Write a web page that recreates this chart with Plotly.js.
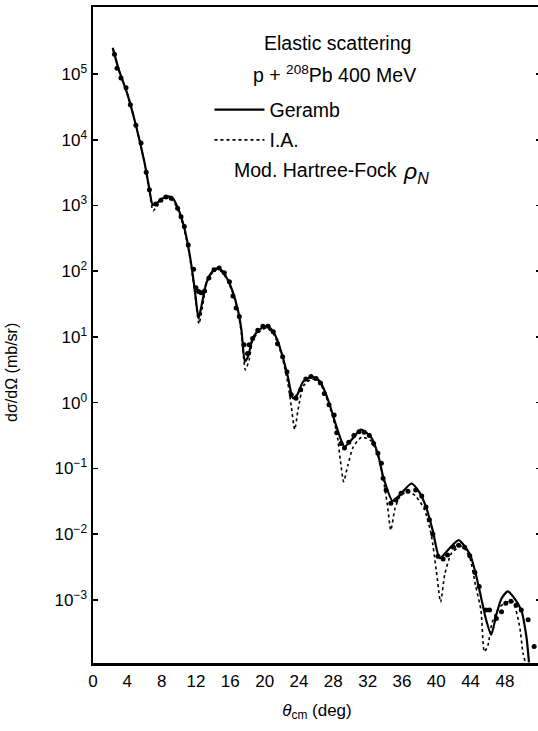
<!DOCTYPE html>
<html>
<head>
<meta charset="utf-8">
<script src="https://cdn.plot.ly/plotly-3.0.1.min.js"></script>
<style>
html,body{margin:0;padding:0;background:#fff;overflow:hidden;}
#chart{width:545px;height:731px;}
</style>
</head>
<body>
<div id="chart"></div>
<script>
// Scattering angle (deg) and cross sections (mb/sr)
const gerambAngle = [2.3, 3.0, 4.0, 5.0, 6.0, 6.5, 6.96, 7.4, 8.0, 8.7, 9.3, 9.9, 10.6, 11.2, 11.8, 12.1, 12.3, 12.6, 13.2, 13.8, 14.5, 15.1, 15.7, 16.3, 16.9, 17.3, 17.7, 18.1, 18.6, 19.3, 20.2, 20.9, 21.5, 22.1, 22.7, 23.3, 23.8, 24.5, 25.5, 26.4, 27.0, 27.7, 28.4, 29.3, 30.2, 31.2, 32.4, 33.2, 33.8, 34.9, 35.8, 37.1, 38.0, 38.8, 39.6, 40.4, 41.5, 42.6, 43.9, 44.5, 45.2, 45.8, 46.4, 47.0, 47.6, 48.3, 49.0, 49.9, 50.5, 50.8];
const gerambXS = [2.5e5, 1.17e5, 5.0e4, 1.66e4, 4.5e3, 2.0e3, 1.02e3, 1.07e3, 1.26e3, 1.38e3, 1.29e3, 912, 479, 200, 60, 28, 19, 28, 66, 95, 112, 100, 74, 48, 25, 12.6, 4.2, 5.2, 9.5, 12.6, 14.8, 12.6, 8.9, 5.0, 2.5, 1.17, 1.32, 2.1, 2.5, 2.14, 1.51, 0.83, 0.42, 0.214, 0.28, 0.39, 0.30, 0.166, 0.076, 0.032, 0.040, 0.059, 0.044, 0.026, 0.0112, 0.0043, 0.006, 0.0081, 0.005, 0.0028, 0.00112, 0.0005, 0.000295, 0.0006, 0.00105, 0.00135, 0.0011, 0.0007, 0.000275, 0.000112];

const iaAngle = [2.3, 3.0, 4.0, 5.0, 6.0, 6.5, 7.0, 7.4, 8.0, 8.7, 9.3, 9.9, 10.6, 11.2, 11.8, 12.1, 12.35, 12.7, 13.2, 13.8, 14.5, 15.1, 15.7, 16.3, 16.9, 17.3, 17.75, 18.2, 18.6, 19.3, 20.2, 20.9, 21.5, 22.1, 22.7, 23.1, 23.5, 23.9, 24.5, 25.5, 26.4, 27.0, 27.7, 28.4, 28.8, 29.2, 29.7, 30.3, 31.3, 32.4, 33.2, 33.8, 34.3, 34.7, 35.2, 35.8, 36.7, 37.6, 38.6, 39.4, 40.0, 40.5, 41.0, 41.8, 43.0, 43.9, 44.6, 45.2, 45.6, 46.0, 46.5, 47.3, 48.1, 48.9, 49.7, 50.1, 50.4];
const iaXS = [2.5e5, 1.17e5, 5.0e4, 1.66e4, 4.5e3, 1.9e3, 830, 955, 1.2e3, 1.32e3, 1.2e3, 850, 447, 191, 55, 25, 15.8, 26, 63, 91, 107, 95, 71, 46, 24, 11.2, 3.16, 4.5, 8.9, 11.7, 13.8, 11.7, 8.3, 4.6, 2.0, 0.89, 0.39, 0.79, 1.78, 2.3, 2.0, 1.41, 0.76, 0.355, 0.141, 0.063, 0.112, 0.209, 0.30, 0.263, 0.158, 0.071, 0.028, 0.0115, 0.025, 0.038, 0.045, 0.038, 0.024, 0.010, 0.0028, 0.00093, 0.0025, 0.0052, 0.0066, 0.0044, 0.0016, 0.0007, 0.000162, 0.0002, 0.00045, 0.00076, 0.00091, 0.00095, 0.0004, 0.000155, 0.00011];

const dataAngle = [2.5, 2.8, 3.26, 3.85, 4.35, 5.0, 5.6, 6.2, 6.57, 7.3, 7.9, 8.5, 9.1, 9.86, 10.26, 10.64, 11.1, 11.73, 12.0, 12.3, 12.6, 13.0, 13.5, 14.1, 14.7, 15.3, 15.9, 16.3, 16.67, 17.05, 17.6, 18.0, 18.2, 18.6, 19.2, 19.8, 20.4, 21.0, 21.5, 22.1, 22.6, 23.1, 23.65, 24.2, 24.8, 25.4, 26.0, 26.5, 26.95, 27.5, 28.1, 28.4, 28.9, 29.3, 29.8, 30.4, 31.0, 31.6, 32.2, 32.7, 33.2, 33.6, 33.8, 34.15, 34.7, 35.3, 35.9, 36.7, 37.6, 38.3, 38.8, 39.2, 39.6, 40.2, 40.8, 41.3, 42.0, 42.6, 43.3, 43.9, 44.5, 45.0, 45.8, 46.2, 47.0, 47.6, 48.1, 48.7, 49.3, 49.9, 50.7, 51.4];
const dataXS = [2.0e5, 1.23e5, 8.7e4, 6.2e4, 3.4e4, 1.66e4, 8.9e3, 3.2e3, 1.74e3, 1.05e3, 1.2e3, 1.35e3, 1.29e3, 912, 676, 479, 251, 107, 56, 49, 47, 50, 79, 105, 112, 95, 69, 42, 27.5, 20.4, 7.6, 5.6, 7.6, 9.5, 12.6, 14.5, 14.5, 12.0, 7.9, 5.0, 2.95, 1.32, 1.17, 1.58, 2.29, 2.5, 2.34, 2.0, 1.38, 0.93, 0.65, 0.35, 0.24, 0.204, 0.25, 0.316, 0.363, 0.355, 0.316, 0.24, 0.17, 0.12, 0.071, 0.047, 0.0295, 0.033, 0.042, 0.045, 0.047, 0.038, 0.026, 0.0166, 0.010, 0.0046, 0.0042, 0.0048, 0.0063, 0.0068, 0.0063, 0.0047, 0.0026, 0.0016, 0.0007, 0.0007, 0.00052, 0.00066, 0.00089, 0.00095, 0.00083, 0.0007, 0.0005, 0.000195];

const xTicks = [0, 4, 8, 12, 16, 20, 24, 28, 32, 36, 40, 44, 48];
const yTicks = [1e-3, 1e-2, 1e-1, 1e0, 1e1, 1e2, 1e3, 1e4, 1e5];
const yTickExp = ['−3', '−2', '−1', '0', '1', '2', '3', '4', '5'];

const FONT = "'Liberation Sans', Arial, Helvetica, sans-serif";

const traces = [
  {
    x: gerambAngle, y: gerambXS, type: 'scatter', mode: 'lines', name: 'Geramb',
    line: {color: '#000', width: 2.2, shape: 'spline', smoothing: 0.6},
    legend: 'legend'
  },
  {
    x: iaAngle, y: iaXS, type: 'scatter', mode: 'lines', name: 'I.A.',
    line: {color: '#000', width: 1.6, dash: '3px,3px', shape: 'spline', smoothing: 0.6},
    legend: 'legend2'
  },
  {
    x: dataAngle, y: dataXS, type: 'scatter', mode: 'markers', name: 'data',
    marker: {color: '#000', size: 5, symbol: 'circle'},
    showlegend: false
  }
];

const layout = {
  width: 545, height: 731,
  margin: {l: 93, r: 4, t: 7, b: 68},
  paper_bgcolor: '#fff', plot_bgcolor: '#fff',
  font: {family: FONT, color: '#000', size: 17},
  showlegend: true,
  xaxis: {
    range: [0, 52.2], tickvals: xTicks, ticktext: xTicks.map(String),
    showline: true, linewidth: 2.5, linecolor: '#000', mirror: true,
    ticks: '', showgrid: false, zeroline: false,
    ticklabelstandoff: 1,
    tickfont: {size: 17, family: FONT},
    title: {text: '<i>θ</i><sub>cm</sub> (deg)', font: {size: 17, family: FONT}, standoff: 14}
  },
  yaxis: {
    type: 'log', range: [-3.96, 6.02], tickvals: yTicks,
    ticktext: yTickExp.map(e => '10<sup>' + e + '</sup>'),
    showline: true, linewidth: 2.5, linecolor: '#000', mirror: 'ticks',
    ticks: 'inside', ticklen: 5, tickwidth: 1.5, tickcolor: '#000',
    showgrid: false, zeroline: false,
    ticklabelstandoff: 0,
    tickfont: {size: 17, family: FONT}
  },
  legend: {
    x: 0.26, y: 0.843, xanchor: 'left', yanchor: 'middle',
    bgcolor: 'rgba(0,0,0,0)', borderwidth: 0, itemwidth: 50,
    font: {size: 19.5, family: FONT}
  },
  legend2: {
    x: 0.26, y: 0.797, xanchor: 'left', yanchor: 'middle',
    bgcolor: 'rgba(0,0,0,0)', borderwidth: 0, itemwidth: 50,
    font: {size: 19.5, family: FONT}
  },
  annotations: [
    {text: 'dσ/dΩ (mb/sr)', xref: 'paper', yref: 'paper', x: -0.181, y: 0.4436,
     xanchor: 'center', yanchor: 'middle', textangle: -90, showarrow: false,
     font: {size: 16, family: FONT}},
    {text: 'Elastic scattering', xref: 'paper', yref: 'paper', x: 0.546, y: 0.945,
     xanchor: 'center', yanchor: 'middle', showarrow: false, font: {size: 19.5, family: FONT}},
    {text: 'p + <sup>208</sup>Pb 400 MeV', xref: 'paper', yref: 'paper', x: 0.540, y: 0.898,
     xanchor: 'center', yanchor: 'middle', showarrow: false, font: {size: 19.5, family: FONT}},
    {text: 'Mod. Hartree-Fock', xref: 'paper', yref: 'paper', x: 0.31, y: 0.7515,
     xanchor: 'left', yanchor: 'middle', showarrow: false, font: {size: 19.5, family: FONT}},
    {text: '<i>ρ</i><sub><i>N</i></sub>', xref: 'paper', yref: 'paper', x: 0.688, y: 0.748,
     xanchor: 'left', yanchor: 'middle', showarrow: false, font: {size: 23, family: FONT}}
  ]
};

Plotly.newPlot('chart', traces, layout, {displayModeBar: false, staticPlot: true});
</script>
</body>
</html>
